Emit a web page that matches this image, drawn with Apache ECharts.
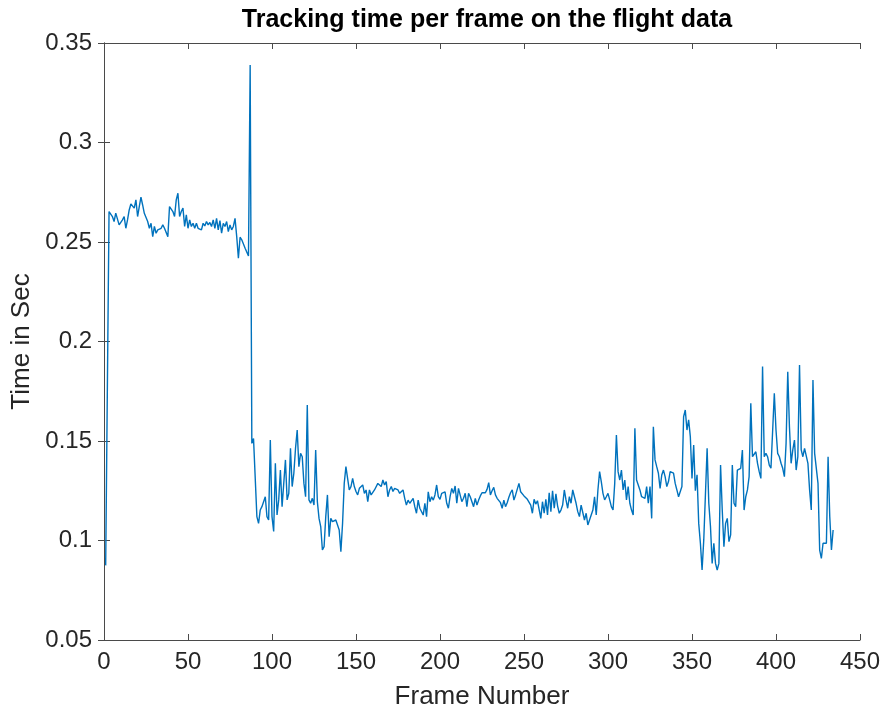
<!DOCTYPE html>
<html>
<head>
<meta charset="utf-8">
<title>Tracking time per frame</title>
<script src="https://cdn.jsdelivr.net/npm/echarts@6/dist/echarts.min.js"></script>
<style>
  html, body { margin: 0; padding: 0; background: #fff; }
  #myChart { width: 884px; height: 715px; }
</style>
</head>
<body>
<div id="myChart"></div>
<script>
// tracking time (sec), frame 1..434
const startFrames = [0.0875, 0.0870];
const slowPhase = [
  0.2653, 0.2658, 0.2628, 0.2603, 0.2645, 0.2636, 0.2586, 0.2578, 0.2611, 0.2628, 0.2569, 0.2611, 0.2661, 0.2691, 0.2698, 0.2670, 0.2712, 0.2628,
  0.2678, 0.2725, 0.2686, 0.2644, 0.2644, 0.2603, 0.2569, 0.2594, 0.2527, 0.2578, 0.2544, 0.2561, 0.2561, 0.2569, 0.2586, 0.2569, 0.2578, 0.2527, 0.2678, 0.2686,
  0.2653, 0.2628, 0.2712, 0.2745, 0.2628, 0.2653, 0.2670, 0.2578, 0.2636, 0.2569, 0.2611, 0.2578, 0.2594, 0.2569, 0.2594, 0.2569, 0.2578, 0.2561, 0.2594, 0.2581,
  0.2603, 0.2586, 0.2598, 0.2578, 0.2611, 0.2569, 0.2619, 0.2561, 0.2608, 0.2544, 0.2594, 0.2578, 0.2603, 0.2552, 0.2586, 0.2561, 0.2578, 0.2619, 0.2527, 0.2418,
  0.2524, 0.2511, 0.2514, 0.2469, 0.2460, 0.2430, 0.3390
];
const fastPhaseA = [
  0.1488, 0.1513, 0.1522, 0.1120, 0.1086, 0.1153, 0.1170, 0.1178, 0.1220, 0.1120, 0.1103, 0.1505, 0.1120,
  0.1045, 0.1388, 0.1128, 0.1204, 0.1354, 0.1170, 0.1178, 0.1405, 0.1204, 0.1237, 0.1463, 0.1271, 0.1338, 0.1463, 0.1555, 0.1371, 0.1438, 0.1421, 0.1287, 0.1220,
  0.1681, 0.1204, 0.1187, 0.1212, 0.1178, 0.1455, 0.1195, 0.1111, 0.1070, 0.0952, 0.0969, 0.1120, 0.1229, 0.1019, 0.1111, 0.1095, 0.1086, 0.1103, 0.1103, 0.1053,
  0.0944, 0.1086, 0.1287, 0.1371, 0.1312, 0.1254, 0.1271, 0.1312, 0.1271, 0.1246, 0.1229, 0.1262, 0.1271, 0.1279, 0.1237, 0.1254, 0.1195, 0.1254, 0.1229, 0.1237
];
const fastPhaseB = [
  0.1254, 0.1246, 0.1287, 0.1296, 0.1271, 0.1304, 0.1279, 0.1296, 0.1220, 0.1254, 0.1271, 0.1246, 0.1262, 0.1254, 0.1254, 0.1237, 0.1245, 0.1254, 0.1212, 0.1178,
  0.1203, 0.1187, 0.1195, 0.1212, 0.1170, 0.1137, 0.1203, 0.1162, 0.1153, 0.1128, 0.1187, 0.1120, 0.1245, 0.1195, 0.1220, 0.1203, 0.1229, 0.1279, 0.1220, 0.1207,
  0.1237, 0.1240, 0.1244, 0.1187, 0.1162, 0.1220, 0.1262, 0.1237, 0.1274, 0.1187, 0.1262, 0.1257, 0.1195, 0.1212, 0.1237, 0.1170, 0.1237, 0.1220, 0.1229, 0.1170,
  0.1212, 0.1178, 0.1203, 0.1224, 0.1240, 0.1250, 0.1240, 0.1257, 0.1291, 0.1229, 0.1250, 0.1267, 0.1229, 0.1212, 0.1207, 0.1190, 0.1162, 0.1203, 0.1170, 0.1190,
  0.1217, 0.1240, 0.1254, 0.1203, 0.1229, 0.1224, 0.1287, 0.1245, 0.1237, 0.1224, 0.1217, 0.1207, 0.1200, 0.1178, 0.1137, 0.1207, 0.1183, 0.1200, 0.1190, 0.1111,
  0.1195, 0.1137, 0.1207, 0.1128, 0.1240, 0.1145, 0.1250, 0.1162, 0.1234, 0.1173, 0.1137, 0.1153, 0.1178, 0.1254, 0.1204, 0.1162, 0.1220, 0.1187, 0.1254, 0.1262,
  0.1187, 0.1145, 0.1120, 0.1178, 0.1178, 0.1103, 0.1137, 0.1078, 0.1070, 0.1128, 0.1153, 0.1220, 0.1128, 0.1254, 0.1346, 0.1296, 0.1237, 0.1204, 0.1220, 0.1237
];
const fastPhaseC = [
  0.1204, 0.1170, 0.1153, 0.1287, 0.1530, 0.1346, 0.1304, 0.1354, 0.1254, 0.1304, 0.1204, 0.1271, 0.1187, 0.1153, 0.1128, 0.1564, 0.1304, 0.1312, 0.1254, 0.1220,
  0.1229, 0.1212, 0.1271, 0.1187, 0.1271, 0.1111, 0.1572, 0.1405, 0.1371, 0.1338, 0.1262, 0.1329, 0.1354, 0.1321, 0.1271, 0.1296, 0.1346, 0.1346, 0.1338, 0.1287,
  0.1254, 0.1220, 0.1220, 0.1271, 0.1622, 0.1656, 0.1555, 0.1606, 0.1522, 0.1312, 0.1480, 0.1250, 0.1330, 0.1086, 0.0986, 0.0852, 0.1003, 0.1011, 0.1463, 0.1187,
  0.1070, 0.0885, 0.0986, 0.0885, 0.0852, 0.0885, 0.1379, 0.1153, 0.0969, 0.1086, 0.1111, 0.0994, 0.1028, 0.1379, 0.1187, 0.1170, 0.1354, 0.1354, 0.1363, 0.1455,
  0.1153, 0.1220, 0.1254, 0.1321, 0.1689, 0.1421, 0.1421, 0.1446, 0.1388, 0.1346, 0.1312, 0.1874, 0.1421, 0.1438, 0.1421, 0.1379, 0.1363, 0.1371, 0.1740, 0.1555,
  0.1438, 0.1421, 0.1388, 0.1363, 0.1321, 0.1488, 0.1848, 0.1572, 0.1388, 0.1455, 0.1505, 0.1354, 0.1421, 0.1882, 0.1455, 0.1421, 0.1463, 0.1455, 0.1388, 0.1254,
  0.1153, 0.1807, 0.1438, 0.1430, 0.1287, 0.0952, 0.0910, 0.0986, 0.0986, 0.0986, 0.1421, 0.1120, 0.0952, 0.1053
];

const frameMin = 0, frameMax = 450, frameStep = 50;
const timeMin = 0.05, timeMax = 0.35, timeStep = 0.05;

const trackingTime = [].concat(startFrames, slowPhase, fastPhaseA, fastPhaseB, fastPhaseC);
const lineData = trackingTime.map((t, i) => [i + 1, t]);

const axisColor = '#4a4a4a';
const textColor = '#262626';
const font = 'Liberation Sans, Arial, Helvetica, sans-serif';

let myChart = echarts.init(document.getElementById('myChart'));

// box axes (top / right) only carry ticks, like the matlab frame
const boxX = {
  type: 'value', position: 'top', min: frameMin, max: frameMax, interval: frameStep,
  axisLine: { show: true, lineStyle: { color: axisColor, width: 1 } },
  axisTick: { show: true, inside: true, length: 6, lineStyle: { color: axisColor } },
  axisLabel: { show: false }, splitLine: { show: false }
};
const boxY = {
  type: 'value', position: 'right', min: timeMin, max: timeMax, interval: timeStep,
  axisLine: { show: true, lineStyle: { color: axisColor, width: 1 } },
  axisTick: { show: true, inside: true, length: 6, lineStyle: { color: axisColor } },
  axisLabel: { show: false }, splitLine: { show: false }
};

myChart.setOption({
  animation: false,
  backgroundColor: '#fff',
  title: {
    text: 'Tracking time per frame on the flight data',
    left: 482, top: 3, textAlign: 'center',
    textStyle: { fontFamily: font, fontSize: 25, fontWeight: 'bold', color: '#000' }
  },
  grid: { left: 104, right: 24, top: 43, bottom: 75 },
  xAxis: [
    {
      type: 'value', min: frameMin, max: frameMax, interval: frameStep,
      name: 'Frame Number', nameLocation: 'middle', nameGap: 44,
      nameTextStyle: { fontFamily: font, fontSize: 26, color: textColor },
      axisLine: { show: true, onZero: false, lineStyle: { color: axisColor, width: 1 } },
      axisTick: { show: true, inside: true, length: 6, lineStyle: { color: axisColor } },
      axisLabel: { fontFamily: font, fontSize: 24, color: textColor, margin: 10 },
      splitLine: { show: false }
    },
    boxX
  ],
  yAxis: [
    {
      type: 'value', min: timeMin, max: timeMax, interval: timeStep,
      name: 'Time in Sec', nameLocation: 'middle', nameGap: 67,
      nameTextStyle: { fontFamily: font, fontSize: 26, color: textColor },
      axisLine: { show: true, onZero: false, lineStyle: { color: axisColor, width: 1 } },
      axisTick: { show: true, inside: true, length: 6, lineStyle: { color: axisColor } },
      axisLabel: { fontFamily: font, fontSize: 24, color: textColor, margin: 12 },
      splitLine: { show: false }
    },
    boxY
  ],
  series: [
    {
      name: 'time',
      type: 'line',
      xAxisIndex: 0,
      yAxisIndex: 0,
      data: lineData,
      showSymbol: false,
      symbol: 'none',
      lineStyle: { color: '#0072BD', width: 1.4 },
      itemStyle: { color: '#0072BD' }
    }
  ]
});
</script>
</body>
</html>
